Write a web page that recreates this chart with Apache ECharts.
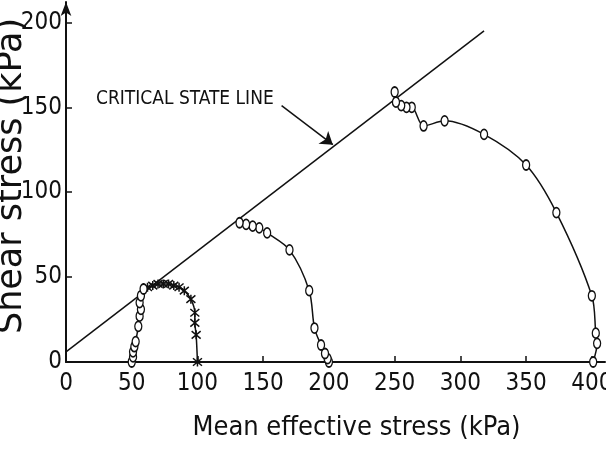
<!DOCTYPE html>
<html>
<head>
<meta charset="utf-8">
<script src="https://cdn.jsdelivr.net/npm/echarts@6/dist/echarts.min.js"></script>
<style>
  html, body { margin: 0; padding: 0; background: #fff; }
  #chart { width: 606px; height: 450px; }
</style>
</head>
<body>
<div id="chart"></div>
<script>
// tick values
var xTicks = [0, 50, 100, 150, 200, 250, 300, 350, 400];
var yTicks = [0, 50, 100, 150, 200];

// critical state line (p', q)
var cslLine = [[0, 6], [318, 195]];

// stress paths (p', q) in kPa
var path100 = [[100, 0], [99, 16], [98, 23], [98, 29], [95, 37], [90, 42], [86, 44], [82, 45],
               [78, 46], [74, 46], [70, 46], [66, 45], [62, 44]];
var path50 = [[50, 0], [51, 3], [51, 6], [52, 9], [53, 12], [55, 21], [56, 27], [57, 31],
              [56, 35], [57, 39], [59, 43]];
var path200 = [[200, 0], [199, 2], [197, 5], [194, 10], [189, 20], [185, 42], [170, 66],
               [153, 76], [147, 79], [142, 80], [137, 81], [132, 82]];
var path400 = [[401, 0], [404, 11], [403, 17], [400, 39], [373, 88], [350, 116], [318, 134],
               [288, 142], [272, 139], [263, 150], [259, 150], [255, 151], [251, 153], [250, 159]];

var ink = '#111';
var labelFont = "'DejaVu Sans Condensed', 'Liberation Sans', sans-serif";

var chart = echarts.init(document.getElementById('chart'));

function pathSeries (data, cross) {
  return {
    type: 'line',
    data: data,
    smooth: 0.3,
    symbol: cross ? 'path://M0,0L10,10M10,0L0,10M5,-1L5,11' : 'circle',
    symbolSize: cross ? 9 : [7, 10],
    lineStyle: { color: ink, width: 1.5 },
    itemStyle: { color: cross ? ink : '#fff', borderColor: ink, borderWidth: 1.5 },
    emphasis: { disabled: true },
    z: 3
  };
}

chart.setOption({
  animation: false,
  grid: { left: 66, right: 1, top: 2, bottom: 88, outerBoundsMode: 'none' },
  xAxis: {
    type: 'value',
    min: 0,
    max: 410,
    name: 'Mean effective stress (kPa)',
    nameLocation: 'middle',
    nameGap: 52,
    nameTextStyle: { fontFamily: labelFont, fontSize: 27, color: ink, padding: [0, 0, 0, 42] },
    splitLine: { show: false },
    axisLine: { lineStyle: { color: ink, width: 2 } },
    axisTick: { inside: true, length: 6, lineStyle: { color: ink, width: 1.5 }, customValues: xTicks },
    axisLabel: { fontFamily: labelFont, fontSize: 24, color: ink, margin: 10, customValues: xTicks }
  },
  yAxis: {
    type: 'value',
    min: 0,
    max: 212,
    splitLine: { show: false },
    axisLine: { symbol: ['none', 'arrow'], symbolSize: [8, 14], lineStyle: { color: ink, width: 2 } },
    axisTick: { inside: true, length: 6, lineStyle: { color: ink, width: 1.5 }, customValues: yTicks },
    axisLabel: { fontFamily: labelFont, fontSize: 24, color: ink, margin: 4, customValues: yTicks }
  },
  graphic: [
    {
      type: 'text',
      left: 96,
      top: 90,
      style: { text: 'CRITICAL STATE LINE', fontFamily: labelFont, fontSize: 19, fill: ink }
    },
    {
      // y axis title
      type: 'text',
      x: 12,
      y: 176,
      rotation: Math.PI / 2,
      style: {
        text: 'Shear stress (kPa)', fontFamily: 'DejaVu Sans', fontSize: 35, fill: ink,
        align: 'center', verticalAlign: 'middle'
      }
    }
  ],
  series: [
    {
      type: 'line',
      data: cslLine,
      symbol: 'none',
      lineStyle: { color: ink, width: 1.5 },
      emphasis: { disabled: true },
      markLine: {
        silent: true,
        symbol: ['none', 'arrow'],
        symbolSize: 12,
        label: { show: false },
        lineStyle: { color: ink, width: 1.5, type: 'solid' },
        data: [[{ coord: [164, 151] }, { coord: [203, 128] }]]
      }
    },
    pathSeries(path100, true),
    pathSeries(path50, false),
    pathSeries(path200, false),
    pathSeries(path400, false)
  ]
});
</script>
</body>
</html>
